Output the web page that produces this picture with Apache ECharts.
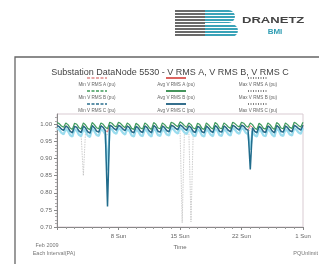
<!DOCTYPE html>
<html><head><meta charset="utf-8">
<script src="https://cdn.jsdelivr.net/npm/echarts@6/dist/echarts.min.js"></script>
<style>html,body{margin:0;padding:0;background:#fff}#c{width:319px;height:264px}</style>
</head><body><div id="c"></div>
<script>
// ---- Data (4 samples per day, 00/06/12/18h, Feb 1 – Mar 1 2009) ----
const titleText = 'Substation DataNode 5530 - V RMS A, V RMS B, V RMS C';
const xTickDays = [7, 14, 21, 28];
const xTickLabels = ['8 Sun', '15 Sun', '22 Sun', '1 Sun'];
const yTickValues = [0.70, 0.75, 0.80, 0.85, 0.90, 0.95, 1.00];
const samplesPerDay = 4;

const legendCols = ['Min', 'Avg', 'Max'];
const legendPhases = ['A', 'B', 'C'];

const avgC = [
 0.996,0.993,0.986,0.982, 0.995,0.990,0.979,0.975, 0.994,0.991,0.980,0.976, 0.995,0.989,0.978,0.974,
 0.996,0.990,0.980,0.977, 0.995,0.991,0.981,0.760, 0.997,0.994,0.987,0.983, 0.997,0.993,0.986,0.981,
 0.995,0.990,0.978,0.975, 0.994,0.989,0.979,0.976, 0.995,0.990,0.980,0.975, 0.996,0.991,0.979,0.977,
 0.995,0.990,0.981,0.978, 0.997,0.994,0.988,0.984, 0.998,0.994,0.987,0.982, 0.995,0.990,0.979,0.976,
 0.994,0.990,0.978,0.975, 0.995,0.989,0.980,0.976, 0.996,0.991,0.979,0.977, 0.995,0.990,0.982,0.978,
 0.997,0.993,0.987,0.983, 0.997,0.994,0.986,0.982, 0.868,0.990,0.979,0.975, 0.994,0.989,0.978,0.976,
 0.995,0.990,0.980,0.975, 0.996,0.991,0.979,0.977, 0.995,0.990,0.981,0.978, 0.997,0.993,0.987,0.983,
 0.997];
const avgA = [
 0.997,0.994,0.986,0.983, 0.996,0.991,0.980,0.976, 0.995,0.991,0.981,0.977, 0.996,0.990,0.979,0.975,
 0.996,0.991,0.981,0.977, 0.996,0.992,0.982,0.978, 0.998,0.994,0.988,0.984, 0.998,0.994,0.987,0.982,
 0.996,0.991,0.979,0.976, 0.995,0.990,0.980,0.977, 0.996,0.991,0.981,0.976, 0.997,0.992,0.980,0.978,
 0.996,0.991,0.982,0.979, 0.998,0.995,0.989,0.985, 0.998,0.995,0.988,0.983, 0.996,0.991,0.980,0.977,
 0.995,0.991,0.979,0.976, 0.996,0.990,0.981,0.977, 0.997,0.992,0.980,0.978, 0.996,0.991,0.983,0.979,
 0.998,0.994,0.988,0.984, 0.998,0.995,0.987,0.983, 0.996,0.991,0.980,0.976, 0.995,0.990,0.979,0.977,
 0.996,0.991,0.981,0.976, 0.997,0.992,0.980,0.978, 0.996,0.991,0.982,0.979, 0.998,0.994,0.988,0.984,
 0.998];
const avgB = [
 1.005,1.002,0.995,0.991, 1.004,0.999,0.989,0.985, 1.003,1.000,0.990,0.986, 1.004,0.998,0.988,0.984,
 1.005,0.999,0.990,0.987, 1.004,1.000,0.991,0.987, 1.006,1.003,0.996,0.992, 1.006,1.002,0.995,0.990,
 1.004,0.999,0.988,0.985, 1.003,0.998,0.989,0.986, 1.004,0.999,0.990,0.985, 1.005,1.000,0.989,0.987,
 1.004,0.999,0.991,0.988, 1.006,1.003,0.997,0.993, 1.007,1.003,0.996,0.991, 1.004,0.999,0.989,0.986,
 1.003,0.999,0.988,0.985, 1.004,0.998,0.990,0.986, 1.005,1.000,0.989,0.987, 1.004,0.999,0.992,0.988,
 1.006,1.002,0.996,0.992, 1.006,1.003,0.995,0.991, 1.004,0.999,0.989,0.985, 1.003,0.998,0.988,0.986,
 1.004,0.999,0.990,0.985, 1.005,1.000,0.989,0.987, 1.004,0.999,0.991,0.988, 1.006,1.002,0.996,0.992,
 1.006];
const minC = [
 0.988,0.984,0.975,0.971, 0.986,0.980,0.968,0.964, 0.985,0.981,0.969,0.965, 0.986,0.979,0.967,0.963,
 0.987,0.980,0.969,0.966, 0.986,0.981,0.970,0.865, 0.989,0.985,0.976,0.972, 0.989,0.984,0.975,0.970,
 0.986,0.980,0.967,0.964, 0.985,0.979,0.968,0.965, 0.986,0.980,0.969,0.964, 0.987,0.981,0.968,0.966,
 0.986,0.980,0.970,0.967, 0.989,0.985,0.977,0.973, 0.990,0.985,0.976,0.971, 0.986,0.980,0.968,0.965,
 0.985,0.980,0.967,0.964, 0.986,0.979,0.969,0.965, 0.987,0.981,0.968,0.966, 0.986,0.980,0.971,0.967,
 0.989,0.984,0.976,0.972, 0.989,0.985,0.975,0.971, 0.925,0.980,0.968,0.964, 0.985,0.979,0.967,0.965,
 0.986,0.980,0.969,0.964, 0.987,0.981,0.968,0.966, 0.986,0.980,0.970,0.967, 0.989,0.984,0.976,0.972,
 0.989];
const minA = [
 0.990,0.986,0.977,0.973, 0.988,0.982,0.970,0.966, 0.987,0.983,0.971,0.967, 0.850,0.981,0.969,0.965,
 0.989,0.982,0.971,0.968, 0.988,0.983,0.972,0.968, 0.991,0.987,0.978,0.974, 0.991,0.986,0.977,0.972,
 0.988,0.982,0.969,0.966, 0.987,0.981,0.970,0.967, 0.988,0.982,0.971,0.966, 0.989,0.983,0.970,0.968,
 0.988,0.982,0.972,0.969, 0.991,0.987,0.979,0.975, 0.992,0.712,0.978,0.973, 0.988,0.715,0.970,0.967,
 0.987,0.982,0.969,0.966, 0.988,0.981,0.971,0.967, 0.989,0.983,0.970,0.968, 0.988,0.982,0.973,0.969,
 0.991,0.986,0.978,0.974, 0.991,0.987,0.977,0.973, 0.988,0.982,0.970,0.966, 0.987,0.981,0.969,0.967,
 0.988,0.982,0.971,0.966, 0.989,0.983,0.970,0.968, 0.988,0.982,0.972,0.969, 0.991,0.986,0.978,0.974,
 0.991];

// ---- Build chart ----
const toPts = arr => arr.map((v, i) => [i / samplesPerDay, v]);
const FONT = 'Liberation Sans, Arial, sans-serif';

const colStyles = [
  {x: 97,  type: [3, 1.5], colors: ['#e08a8a', '#3f9a5a', '#2b6f8e']},
  {x: 176, type: 'solid',  colors: ['#d9534f', '#2f8a4a', '#1f5f80']},
  {x: 258, type: [1, 1.5], colors: ['#555', '#555', '#555']}
];
const rowY = [78, 91, 104];
const legendGraphics = [];
colStyles.forEach((c, ci) => {
  legendPhases.forEach((p, ri) => {
    legendGraphics.push({type: 'line', shape: {x1: c.x - 10, y1: rowY[ri], x2: c.x + 10, y2: rowY[ri]},
      style: {stroke: c.colors[ri], lineWidth: ci === 1 ? 1.8 : 1.3, lineDash: c.type === 'solid' ? null : c.type}, silent: true});
    legendGraphics.push({type: 'text', x: c.x, y: rowY[ri] + 6.5,
      style: {text: legendCols[ci] + ' V RMS ' + p + ' (pu)', fill: '#666', font: '4.6px ' + FONT, align: 'center', verticalAlign: 'middle'}});
  });
});

// logo
const logo = [];
logo.push({type: 'rect', shape: {x: 205, y: 10, width: 30, height: 13, r: [0, 7, 7, 0]}, style: {fill: '#3aa3b8'}});
logo.push({type: 'rect', shape: {x: 205, y: 24, width: 33, height: 13, r: [0, 7, 7, 0]}, style: {fill: '#3aa3b8'}});
for (let i = 0; i < 9; i++) {
  logo.push({type: 'rect', shape: {x: 175, y: 10 + i * 3, width: 30, height: 2}, style: {fill: '#6a6a6a'}});
  logo.push({type: 'rect', shape: {x: 175, y: 12 + i * 3, width: 64, height: 1}, style: {fill: '#ffffff'}});
}
logo.push({type: 'text', x: 242, y: 21, scaleX: 1.45, originX: 0, originY: 0,
  style: {text: 'DRANETZ', fill: '#444', font: 'bold 9px ' + FONT, verticalAlign: 'middle'}});
logo.push({type: 'text', x: 275, y: 32, style: {text: 'BMI', fill: '#2f9db3', font: 'bold 8px ' + FONT, align: 'center', verticalAlign: 'middle'}});

const chart = echarts.init(document.getElementById('c'), null, {renderer: 'canvas'});
chart.setOption({
  animation: false,
  backgroundColor: '#fff',
  title: {text: titleText, left: 165, top: 63, textAlign: 'center',
    textStyle: {fontSize: 9, fontWeight: 'normal', color: '#444', fontFamily: FONT}},
  grid: {left: 57, right: 16, top: 114, bottom: 37, show: true, borderColor: '#d9cbd2', borderWidth: 1},
  xAxis: {type: 'value', min: 0, max: 28, interval: 7,
    name: 'Time', nameLocation: 'middle', nameGap: 17,
    nameTextStyle: {fontSize: 6, color: '#666', fontFamily: FONT},
    axisLine: {lineStyle: {color: '#888', width: 1}},
    axisTick: {length: 3, lineStyle: {color: '#888'}},
    minorTick: {show: true, splitNumber: 7, length: 2, lineStyle: {color: '#999'}},
    splitLine: {show: false},
    axisLabel: {fontSize: 6, color: '#666', margin: 6, fontFamily: FONT, showMinLabel: false,
      formatter: v => { const k = xTickDays.indexOf(v); return k >= 0 ? xTickLabels[k] : ''; }}},
  yAxis: {type: 'value', min: 0.70, max: 1.03, interval: 0.05,
    axisLine: {show: true, lineStyle: {color: '#888', width: 1}},
    axisTick: {show: true, length: 3, lineStyle: {color: '#888'}, customValues: yTickValues},
    minorTick: {show: true, splitNumber: 5, length: 2, lineStyle: {color: '#aaa'}},
    splitLine: {show: false},
    axisLabel: {fontSize: 6, color: '#666', margin: 5, fontFamily: FONT, customValues: yTickValues,
      formatter: v => v.toFixed(2)}},
  series: [
    {name: 'Min V RMS A', type: 'line', showSymbol: false, data: toPts(minA), lineStyle: {color: '#b8b8b8', width: 0.7, type: [1.5, 1]}},
    {name: 'Min V RMS C', type: 'line', showSymbol: false, data: toPts(minC), lineStyle: {color: '#9adcee', width: 2.2}},
    {name: 'Avg V RMS A', type: 'line', showSymbol: false, data: toPts(avgA), lineStyle: {color: '#d9534f', width: 0.8}},
    {name: 'Avg V RMS C', type: 'line', showSymbol: false, data: toPts(avgC), lineStyle: {color: '#216c8c', width: 1.5}},
    {name: 'Avg V RMS B', type: 'line', showSymbol: false, data: toPts(avgB), lineStyle: {color: '#3f9a5e', width: 1.2}}
  ],
  graphic: [
    {type: 'rect', shape: {x: 15, y: 57, width: 330, height: 230}, style: {fill: null, stroke: '#666', lineWidth: 1.3}, silent: true},
    ...logo,
    ...legendGraphics,
    {type: 'text', x: 47, y: 245, style: {text: 'Feb 2009', fill: '#777', font: '5.5px ' + FONT, align: 'center', verticalAlign: 'middle'}},
    {type: 'text', x: 54, y: 253, style: {text: 'Each Interval(PA)', fill: '#777', font: '5.5px ' + FONT, align: 'center', verticalAlign: 'middle'}},
    {type: 'text', x: 318, y: 253, style: {text: 'PQUnlimit', fill: '#777', font: '5.5px ' + FONT, align: 'right', verticalAlign: 'middle'}}
  ]
});
</script></body></html>
